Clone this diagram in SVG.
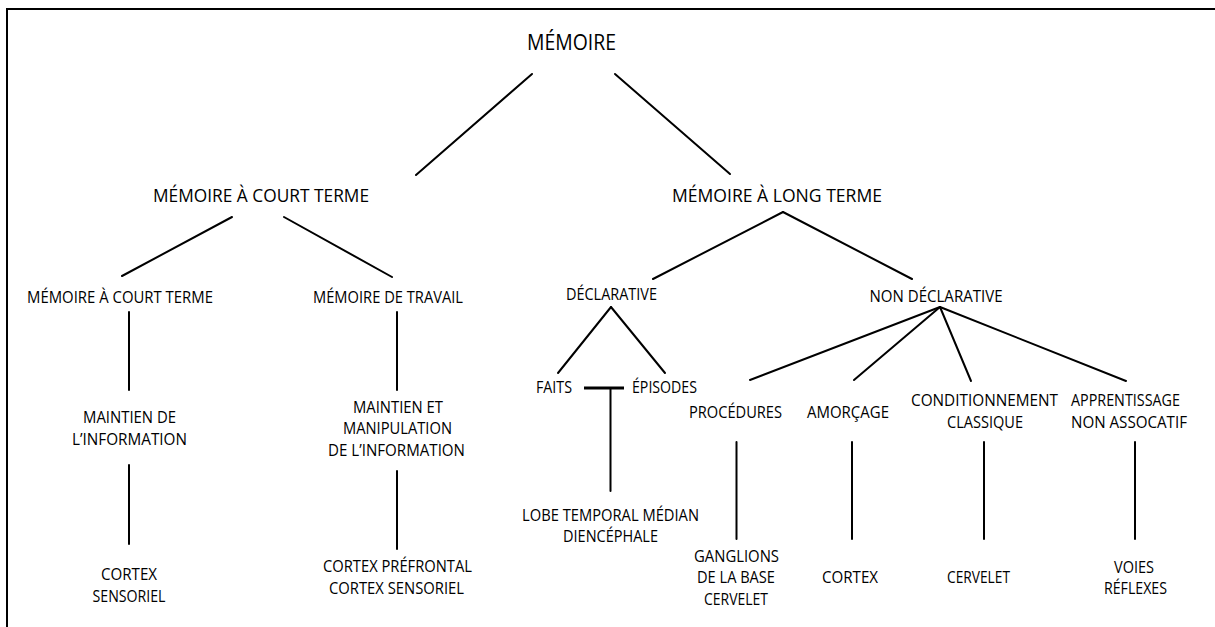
<svg xmlns="http://www.w3.org/2000/svg" width="1215" height="627" viewBox="0 0 1215 627">
<style>
.t{font-family:"Open Sans","Noto Sans",sans-serif;fill:#000;text-anchor:middle}
.s20{font-size:22.5px}.s18{font-size:18.7px}.s16{font-size:16.3px}
.c line{stroke:#000;stroke-width:2;stroke-linecap:round}
.frame{stroke:#000;stroke-width:2;fill:none}
</style>
<rect width="1215" height="627" fill="#fff"/>
<path class="frame" d="M7 627 V9 H1215"/>
<g class="c" id="connectors">
<line x1="532" y1="74" x2="416" y2="175"/>
<line x1="615" y1="74" x2="730" y2="174"/>
<line x1="232" y1="217" x2="122" y2="276"/>
<line x1="284" y1="217" x2="392" y2="277"/>
<line x1="129" y1="312" x2="129" y2="390"/>
<line x1="129" y1="465" x2="129" y2="544"/>
<line x1="397" y1="312" x2="397" y2="390"/>
<line x1="397" y1="471" x2="397" y2="549"/>
<line x1="783" y1="212" x2="653" y2="279"/>
<line x1="783" y1="212" x2="912" y2="279"/>
<line x1="611" y1="307" x2="558" y2="373"/>
<line x1="611" y1="307" x2="665" y2="373"/>
<line x1="584" y1="388" x2="624" y2="388" style="stroke-width:3;stroke-linecap:butt"/>
<line x1="610.5" y1="388" x2="610.5" y2="491"/>
<line x1="940" y1="307" x2="750" y2="380"/>
<line x1="940" y1="307" x2="854" y2="380"/>
<line x1="940" y1="307" x2="971" y2="381"/>
<line x1="940" y1="307" x2="1126" y2="381"/>
<line x1="736.5" y1="442" x2="736.5" y2="539"/>
<line x1="852" y1="442" x2="852" y2="539"/>
<line x1="984" y1="442" x2="984" y2="539"/>
<line x1="1135" y1="442" x2="1135" y2="539"/>
</g>
<g id="n-memoire"><text class="t s20" x="571.5" y="50" textLength="89" lengthAdjust="spacingAndGlyphs">MÉMOIRE</text></g>
<g id="n-court"><text class="t s18" x="261" y="202" textLength="216" lengthAdjust="spacingAndGlyphs">MÉMOIRE À COURT TERME</text></g>
<g id="n-long"><text class="t s18" x="777" y="202" textLength="210" lengthAdjust="spacingAndGlyphs">MÉMOIRE À LONG TERME</text></g>
<g id="n-court2"><text class="t s16" x="120" y="303" textLength="186" lengthAdjust="spacingAndGlyphs">MÉMOIRE À COURT TERME</text></g>
<g id="n-travail"><text class="t s16" x="388" y="303" textLength="150" lengthAdjust="spacingAndGlyphs">MÉMOIRE DE TRAVAIL</text></g>
<g id="n-maintien"><text class="t s16" x="129.5" y="423" textLength="93" lengthAdjust="spacingAndGlyphs">MAINTIEN DE</text><text class="t s16" x="129.5" y="445" textLength="115" lengthAdjust="spacingAndGlyphs">L’INFORMATION</text></g>
<g id="n-cortexsens"><text class="t s16" x="129" y="580" textLength="56" lengthAdjust="spacingAndGlyphs">CORTEX</text><text class="t s16" x="129" y="602" textLength="73" lengthAdjust="spacingAndGlyphs">SENSORIEL</text></g>
<g id="n-manip"><text class="t s16" x="398" y="413" textLength="90" lengthAdjust="spacingAndGlyphs">MAINTIEN ET</text><text class="t s16" x="397.5" y="434" textLength="109" lengthAdjust="spacingAndGlyphs">MANIPULATION</text><text class="t s16" x="396.5" y="456" textLength="137" lengthAdjust="spacingAndGlyphs">DE L’INFORMATION</text></g>
<g id="n-prefrontal"><text class="t s16" x="397.5" y="572" textLength="149" lengthAdjust="spacingAndGlyphs">CORTEX PRÉFRONTAL</text><text class="t s16" x="396.5" y="594" textLength="135" lengthAdjust="spacingAndGlyphs">CORTEX SENSORIEL</text></g>
<g id="n-decl"><text class="t s16" x="611.5" y="300" textLength="91" lengthAdjust="spacingAndGlyphs">DÉCLARATIVE</text></g>
<g id="n-nondecl"><text class="t s16" x="936" y="302" textLength="133" lengthAdjust="spacingAndGlyphs">NON DÉCLARATIVE</text></g>
<g id="n-faits"><text class="t s16" x="554" y="393" textLength="36" lengthAdjust="spacingAndGlyphs">FAITS</text></g>
<g id="n-episodes"><text class="t s16" x="664.5" y="393" textLength="65" lengthAdjust="spacingAndGlyphs">ÉPISODES</text></g>
<g id="n-lobe"><text class="t s16" x="610.5" y="521" textLength="177" lengthAdjust="spacingAndGlyphs">LOBE TEMPORAL MÉDIAN</text><text class="t s16" x="610.5" y="542" textLength="95" lengthAdjust="spacingAndGlyphs">DIENCÉPHALE</text></g>
<g id="n-proc"><text class="t s16" x="735.5" y="418" textLength="93" lengthAdjust="spacingAndGlyphs">PROCÉDURES</text></g>
<g id="n-amorcage"><text class="t s16" x="848" y="418" textLength="82" lengthAdjust="spacingAndGlyphs">AMORÇAGE</text></g>
<g id="n-cond"><text class="t s16" x="984.5" y="406" textLength="147" lengthAdjust="spacingAndGlyphs">CONDITIONNEMENT</text><text class="t s16" x="985" y="428" textLength="76" lengthAdjust="spacingAndGlyphs">CLASSIQUE</text></g>
<g id="n-appr"><text class="t s16" x="1125.5" y="406" textLength="109" lengthAdjust="spacingAndGlyphs">APPRENTISSAGE</text><text class="t s16" x="1129" y="428" textLength="116" lengthAdjust="spacingAndGlyphs">NON ASSOCATIF</text></g>
<g id="n-ganglions"><text class="t s16" x="736.5" y="562" textLength="85" lengthAdjust="spacingAndGlyphs">GANGLIONS</text><text class="t s16" x="736" y="583" textLength="78" lengthAdjust="spacingAndGlyphs">DE LA BASE</text><text class="t s16" x="736" y="605" textLength="64" lengthAdjust="spacingAndGlyphs">CERVELET</text></g>
<g id="n-cortex"><text class="t s16" x="850" y="583" textLength="56" lengthAdjust="spacingAndGlyphs">CORTEX</text></g>
<g id="n-cervelet"><text class="t s16" x="978.5" y="583" textLength="63" lengthAdjust="spacingAndGlyphs">CERVELET</text></g>
<g id="n-voies"><text class="t s16" x="1134" y="573" textLength="40" lengthAdjust="spacingAndGlyphs">VOIES</text><text class="t s16" x="1135.5" y="594" textLength="63" lengthAdjust="spacingAndGlyphs">RÉFLEXES</text></g>
</svg>
